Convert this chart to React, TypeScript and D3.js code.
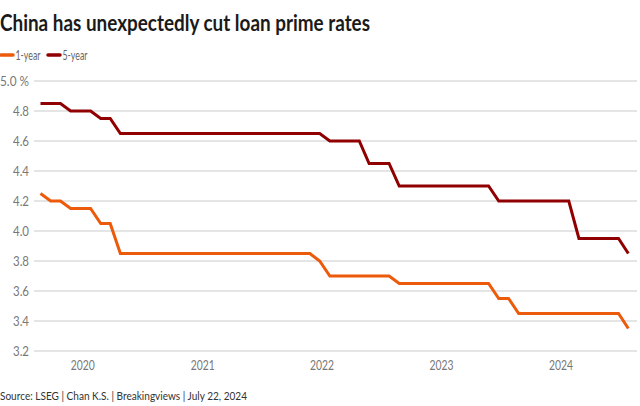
import React from "react";
import * as d3 from "d3";

const months: string[] = [
  "2019-08","2019-09","2019-10","2019-11","2019-12",
  "2020-01","2020-02","2020-03","2020-04","2020-05","2020-06","2020-07","2020-08","2020-09","2020-10","2020-11","2020-12",
  "2021-01","2021-02","2021-03","2021-04","2021-05","2021-06","2021-07","2021-08","2021-09","2021-10","2021-11","2021-12",
  "2022-01","2022-02","2022-03","2022-04","2022-05","2022-06","2022-07","2022-08","2022-09","2022-10","2022-11","2022-12",
  "2023-01","2023-02","2023-03","2023-04","2023-05","2023-06","2023-07","2023-08","2023-09","2023-10","2023-11","2023-12",
  "2024-01","2024-02","2024-03","2024-04","2024-05","2024-06","2024-07",
];

const oneYear: number[] = [
  4.25,4.20,4.20,4.15,4.15,
  4.15,4.05,4.05,3.85,3.85,3.85,3.85,3.85,3.85,3.85,3.85,3.85,
  3.85,3.85,3.85,3.85,3.85,3.85,3.85,3.85,3.85,3.85,3.85,3.80,
  3.70,3.70,3.70,3.70,3.70,3.70,3.70,3.65,3.65,3.65,3.65,3.65,
  3.65,3.65,3.65,3.65,3.65,3.55,3.55,3.45,3.45,3.45,3.45,3.45,
  3.45,3.45,3.45,3.45,3.45,3.45,3.35,
];

const fiveYear: number[] = [
  4.85,4.85,4.85,4.80,4.80,
  4.80,4.75,4.75,4.65,4.65,4.65,4.65,4.65,4.65,4.65,4.65,4.65,
  4.65,4.65,4.65,4.65,4.65,4.65,4.65,4.65,4.65,4.65,4.65,4.65,
  4.60,4.60,4.60,4.60,4.45,4.45,4.45,4.30,4.30,4.30,4.30,4.30,
  4.30,4.30,4.30,4.30,4.30,4.20,4.20,4.20,4.20,4.20,4.20,4.20,
  4.20,3.95,3.95,3.95,3.95,3.95,3.85,
];

const yTicks: number[] = [3.2, 3.4, 3.6, 3.8, 4.0, 4.2, 4.4, 4.6, 4.8, 5.0];
const xTickYears: number[] = [2020, 2021, 2022, 2023, 2024];

const seriesNames = ["1-year", "5-year"];
const seriesColors = ["#ec5a0b", "#900000"];

const title = "China has unexpectedly cut loan prime rates";
const source = "Source: LSEG | Chan K.S. | Breakingviews | July 22, 2024";

const W = 640, H = 406;
const FONT = "Lato, 'Open Sans', sans-serif";

export default function App() {
  const dates = months.map((m) => {
    const [y, mo] = m.split("-").map(Number);
    return new Date(y, mo - 1, 20);
  });
  const x = d3.scaleTime()
    .domain([dates[0], new Date(2024, 6, 22)])
    .range([40.5, 629]);
  const y = d3.scaleLinear().domain([3.2, 5.0]).range([351, 81]);

  const line = d3.line<number>()
    .x((_, i) => x(dates[i]))
    .y((d) => y(d));

  const series = [oneYear, fiveYear];

  return (
    <svg width={W} height={H} style={{ position: "absolute", left: 0, top: 0, background: "#fff" }}
      fontFamily={FONT}>
      <text x={0} y={30.5} fontSize={22.5} fontWeight={700} fill="#1a1a1a"
        textLength={370} lengthAdjust="spacingAndGlyphs">{title}</text>

      {seriesNames.map((n, i) => (
        <g key={n} transform={`translate(${i * 47},0)`}>
          <line x1={1} x2={13} y1={55} y2={55} stroke={seriesColors[i]} strokeWidth={3.5} strokeLinecap="round" />
          <text x={15.5} y={59.5} fontSize={12.5} fill="#666" textLength={25} lengthAdjust="spacingAndGlyphs">{n}</text>
        </g>
      ))}

      {yTicks.map((t) => (
        <g key={t}>
          <line x1={34} x2={637} y1={y(t)} y2={y(t)} stroke="#dcdcdc" strokeWidth={1.5} />
          <text x={29} y={y(t) + 4.5} fontSize={12.5} fill="#777" textAnchor="end"
            textLength={t === 5.0 ? 29 : 16} lengthAdjust="spacingAndGlyphs">
            {t === 5.0 ? "5.0 %" : t.toFixed(1)}
          </text>
        </g>
      ))}

      {xTickYears.map((yr) => (
        <text key={yr} x={x(new Date(yr, 0, 1)) - 1.5} y={370} fontSize={12.5} fill="#777" textAnchor="middle"
          textLength={24} lengthAdjust="spacingAndGlyphs">
          {yr}
        </text>
      ))}

      {series.map((s, i) => (
        <path key={i} d={line(s) || ""} fill="none" stroke={seriesColors[i]} strokeWidth={3}
          strokeLinejoin="miter" />
      ))}

      <text x={0} y={399.5} fontSize={11.5} fill="#333" textLength={247} lengthAdjust="spacingAndGlyphs">{source}</text>
    </svg>
  );
}
